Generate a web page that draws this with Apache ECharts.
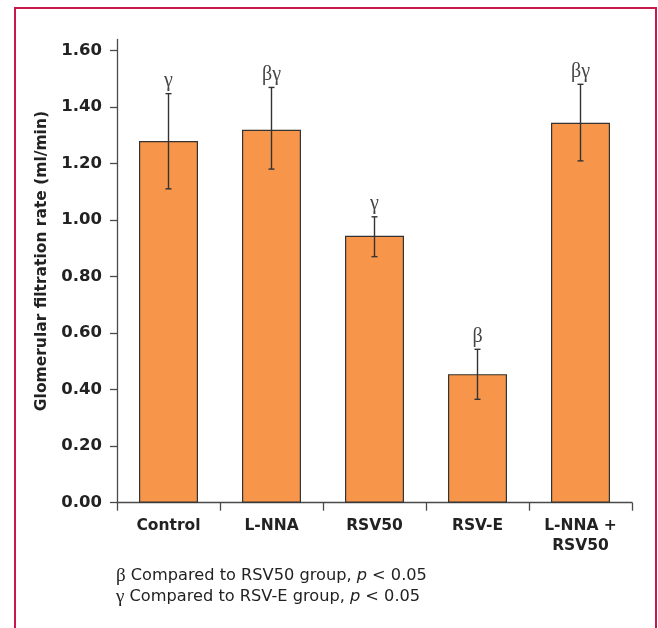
<!DOCTYPE html>
<html>
<head>
<meta charset="utf-8">
<script src="https://cdn.jsdelivr.net/npm/echarts@6/dist/echarts.min.js"></script>
<style>html,body{margin:0;padding:0;background:#fff}#c{width:658px;height:628px}</style>
</head>
<body>
<div id="c"></div>
<script>
const categories = ['Control', 'L-NNA', 'RSV50', 'RSV-E', 'L-NNA +\nRSV50'];
const gfr = [1.28, 1.32, 0.945, 0.455, 1.345];
const errHigh = [1.448, 1.470, 1.012, 0.543, 1.481];
const errLow = [1.111, 1.181, 0.871, 0.366, 1.210];
const marks = ['γ', 'βγ', 'γ', 'β', 'βγ'];
const yTicks = [0, 0.2, 0.4, 0.6, 0.8, 1.0, 1.2, 1.4, 1.6];

const chart = echarts.init(document.getElementById('c'), null, {renderer: 'canvas'});
const axisColor = '#4a4a4a';
chart.setOption({
  animation: false,
  backgroundColor: '#fff',
  grid: {left: 117, right: 26, top: 39.4, bottom: 125.3, containLabel: false},
  xAxis: {
    type: 'category',
    data: categories,
    axisLine: {lineStyle: {color: axisColor, width: 1.3}},
    axisTick: {show: true, length: 8, lineStyle: {color: axisColor, width: 1.3}},
    axisLabel: {
      margin: 13, fontFamily: 'DejaVu Sans', fontWeight: 'bold', fontSize: 15.5,
      color: '#222', lineHeight: 20
    }
  },
  yAxis: {
    type: 'value',
    min: 0, max: 1.64, interval: 0.2,
    name: 'Glomerular filtration rate (ml/min)',
    nameLocation: 'middle', nameRotate: 90, nameGap: 61,
    nameTextStyle: {fontFamily: 'DejaVu Sans', fontWeight: 'bold', fontSize: 15.5, color: '#222', padding: [0, 0, 0, 20]},
    splitLine: {show: false},
    axisLine: {show: true, lineStyle: {color: axisColor, width: 1.3}},
    axisTick: {show: true, length: 7, lineStyle: {color: axisColor, width: 1.3}, customValues: yTicks},
    axisLabel: {
      margin: 15, fontFamily: 'DejaVu Sans', fontWeight: 'bold', fontSize: 16.5, color: '#222',
      customValues: yTicks,
      formatter: v => v.toFixed(2)
    }
  },
  series: [
    {
      type: 'bar',
      data: gfr,
      barWidth: 59,
      itemStyle: {color: '#F7964A', borderColor: '#333', borderWidth: 1.2},
      z: 2
    },
    {
      type: 'custom',
      data: gfr.map((v, i) => [i, errHigh[i], errLow[i]]),
      z: 5,
      renderItem: function (params, api) {
        const i = api.value(0);
        const hi = api.coord([i, api.value(1)]);
        const lo = api.coord([i, api.value(2)]);
        const x = hi[0];
        const st = {stroke: '#333', lineWidth: 1.4};
        return {
          type: 'group',
          children: [
            {type: 'line', shape: {x1: x, y1: hi[1], x2: x, y2: lo[1]}, style: st},
            {type: 'line', shape: {x1: x - 3, y1: hi[1], x2: x + 3, y2: hi[1]}, style: st},
            {type: 'line', shape: {x1: x - 3, y1: lo[1], x2: x + 3, y2: lo[1]}, style: st},
            {type: 'text', x: x, y: hi[1] - 3, style: {
              text: marks[i], fontFamily: 'Liberation Serif', fontSize: 20, fill: '#444',
              align: 'center', verticalAlign: 'bottom'
            }}
          ]
        };
      }
    }
  ],
  graphic: [
    {type: 'rect', shape: {x: 15, y: 8, width: 641, height: 660}, style: {fill: 'none', stroke: '#C9194C', lineWidth: 2}, silent: true},
    {type: 'text', left: 116, top: 566, style: {
      text: '{g|β} Compared to RSV50 group, {i|p} < 0.05\n{g|γ} Compared to RSV-E group, {i|p} < 0.05',
      fontFamily: 'DejaVu Sans', fontSize: 16.2, fill: '#222', lineHeight: 20.5,
      rich: {
        g: {fontFamily: 'Liberation Serif', fontSize: 19, fill: '#222', lineHeight: 20.5},
        i: {fontStyle: 'italic', fontFamily: 'DejaVu Sans', fontSize: 16.2, fill: '#222', lineHeight: 20.5}
      }
    }}
  ]
});
</script>
</body>
</html>
